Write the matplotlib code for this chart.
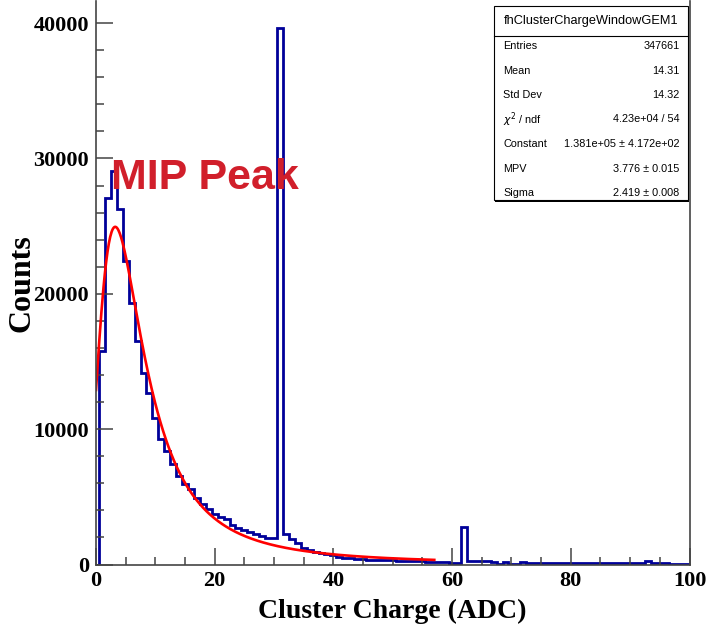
import numpy as np
import matplotlib
matplotlib.use('Agg')
import matplotlib.pyplot as plt
from matplotlib.patches import Rectangle
from matplotlib.ticker import MultipleLocator

# histogram contents, one bin per ADC count (bins centred on 0..100)
bin_centres = np.arange(0, 101)
counts = [
    0, 15800, 27050, 29070, 26250, 22430, 19350, 16510, 14170, 12690,
    10850, 9290, 8400, 7390, 6530, 5970, 5550, 4930, 4440, 4070,
    3700, 3530, 3330, 2910, 2710, 2540, 2390, 2220, 2090, 1970,
    1970, 39650, 2220, 1900, 1600, 1200, 1060, 950, 860, 780,
    700, 580, 500, 450, 410, 380, 350, 340, 330, 310,
    300, 290, 280, 270, 260, 250, 220, 200, 170, 150,
    130, 110, 2800, 270, 260, 260, 250, 185, 40, 185,
    40, 40, 185, 90, 90, 90, 90, 90, 90, 90,
    90, 90, 90, 90, 90, 130, 130, 130, 130, 90,
    90, 90, 90, 280, 130, 130, 130, 60, 60, 60,
    60,
]

# Landau fit parameters
fit_const = 1.381e5
fit_mpv = 3.776
fit_sigma = 2.419
fit_range = (0.0, 57.0)

stats_title = 'fhClusterChargeWindowGEM1'
stats_rows = [
    ('Entries', '347661'),
    ('Mean', '14.31'),
    ('Std Dev', '14.32'),
    (r'$\chi^{2}$ / ndf', '4.23e+04 / 54'),
    ('Constant', '1.381e+05 ± 4.172e+02'),
    ('MPV', '3.776 ± 0.015'),
    ('Sigma', '2.419 ± 0.008'),
]


def landau(lam):
    # Landau density, phi(l) = 1/pi * int_0^inf exp(-t ln t - l t) sin(pi t) dt
    t = np.concatenate([np.geomspace(1e-7, 0.5, 3000),
                        np.linspace(0.5, 30, 6000)[1:]])
    f = np.exp(-t * np.log(t) - np.outer(lam, t)) * np.sin(np.pi * t)
    return np.trapezoid(f, t, axis=1) / np.pi


W, H = 708, 633
fig = plt.figure(figsize=(W / 100, H / 100), dpi=100)
x0, x1, y0, y1 = 96, 689.5, 564.5, 1
ax = fig.add_axes([x0 / W, 1 - y0 / H, (x1 - x0) / W, (y0 - y1) / H])

edges = np.append(bin_centres - 0.5, bin_centres[-1] + 0.5)
ax.stairs(counts, edges, color='#000099', linewidth=2.0)

xf = np.linspace(fit_range[0], fit_range[1], 500)
yf = fit_const * landau((xf - fit_mpv) / fit_sigma)
ax.plot(xf, yf, color='red', linewidth=1.9)

ax.set_xlim(0, 100)
ax.set_ylim(0, 1.05 * max(counts))

for s in ax.spines.values():
    s.set_color('#444444')
    s.set_linewidth(1.2)
ax.spines['top'].set_visible(False)

ax.xaxis.set_major_locator(MultipleLocator(20))
ax.xaxis.set_minor_locator(MultipleLocator(5))
ax.yaxis.set_major_locator(MultipleLocator(10000))
ax.yaxis.set_minor_locator(MultipleLocator(2000))
ax.tick_params(which='both', direction='in', color='#444444', width=1.1)
ax.tick_params(which='major', length=12)
ax.tick_params(which='minor', length=5.5)
ax.tick_params(axis='x', which='major', pad=5)
ax.tick_params(axis='y', which='major', pad=5)

lbl_font = dict(family='Liberation Serif', weight='bold')
for lab in ax.get_xticklabels() + ax.get_yticklabels():
    lab.set_fontfamily('Liberation Serif')
    lab.set_fontweight('bold')
    lab.set_fontsize(16)

ax.set_xlabel('Cluster Charge (ADC)', fontsize=20, labelpad=5, **lbl_font)
ax.set_ylabel('Counts', fontsize=23, **lbl_font)
ax.yaxis.label.set_va('center')
ax.yaxis.set_label_coords((22 - x0) / (x1 - x0), 0.5)

ax.text(2.6, 27720, 'MIP Peak', color='#d11f2b', fontsize=31,
        fontweight='bold', family='Liberation Sans', va='baseline')

# statistics box, laid out in pixels
def fx(px):
    return px / W


def fy(py):
    return 1 - py / H


bx0, bx1, by0, by1, bsep = 494, 688, 6, 200, 36
fig.add_artist(Rectangle((fx(bx0 + 1.5), fy(by1 + 1.5)), fx(bx1 - bx0),
                         (by1 - by0) / H, transform=fig.transFigure,
                         facecolor='black', edgecolor='none', zorder=5))
fig.add_artist(Rectangle((fx(bx0), fy(by1)), fx(bx1 - bx0),
                         (by1 - by0) / H, transform=fig.transFigure,
                         facecolor='white', edgecolor='black',
                         linewidth=0.8, zorder=6))
fig.add_artist(plt.Line2D([fx(bx0), fx(bx1)], [fy(bsep), fy(bsep)],
                          transform=fig.transFigure, color='black',
                          linewidth=0.8, zorder=7))
fig.text(fx((bx0 + bx1) / 2), fy((by0 + bsep) / 2), stats_title,
         ha='center', va='center', fontsize=9.2, family='Liberation Sans',
         zorder=8)
row_y = [46, 70.5, 95, 119.5, 144, 168.5, 193]
for (name, val), ry in zip(stats_rows, row_y):
    fig.text(fx(503), fy(ry), name, ha='left', va='center', fontsize=7.8,
             family='Liberation Sans', zorder=8)
    fig.text(fx(679.5), fy(ry), val, ha='right', va='center', fontsize=7.8,
             family='Liberation Sans', zorder=8)

fig.savefig('out.png', dpi=100)
